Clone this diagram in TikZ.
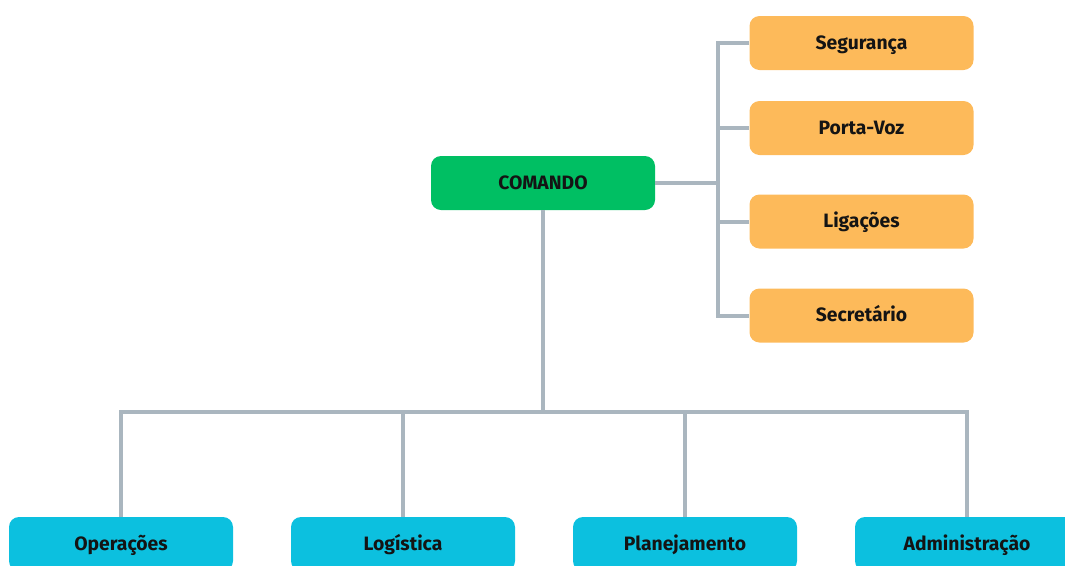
\documentclass[tikz,border=0pt]{standalone}
\usepackage{fontspec}
\setmainfont{Fira Sans}
\begin{document}
\begin{tikzpicture}[x=0.75pt,y=-0.75pt,
  box/.style={rounded corners=7.5pt,minimum width=168pt,minimum height=40.5pt,inner sep=0pt,
    text height=1.1em,text depth=0.14em,
    font=\bfseries\fontsize{14.5}{16}\selectfont,text=black!92},
  cmdbox/.style={box,fill=cmdgreen},
  sidebox/.style={box,fill=sideorange},
  secbox/.style={box,fill=seccyan},
  conn/.style={draw=linegray,line width=3pt}]
\definecolor{cmdgreen}{HTML}{00BF63}
\definecolor{sideorange}{HTML}{FDBA5A}
\definecolor{seccyan}{HTML}{0CC0DF}
\definecolor{linegray}{HTML}{AAB6BF}
\useasboundingbox (0,0) rectangle (1065,565);
\clip (0,0) rectangle (1065,565);
\coordinate (jx) at (718,183);
\coordinate (bj) at (543,412);
\node[cmdbox] (cmd) at (543,183) {COMANDO};
\node[sidebox] (s1) at (861.5,43) {Segurança};
\node[sidebox] (s2) at (861.5,128) {Porta-Voz};
\node[sidebox] (s3) at (861.5,221.5) {Ligações};
\node[sidebox] (s4) at (861.5,315.5) {Secretário};
\node[secbox] (b1) at (121,544) {Operações};
\node[secbox] (b2) at (403,544) {Logística};
\node[secbox] (b3) at (685,544) {Planejamento};
\node[secbox] (b4) at (967,544) {Administração};
\draw[conn] (cmd.east) -- (jx);
\draw[conn] (s1.west) -| (jx) |- (s4.west);
\draw[conn] (s2.west) -- (s2.west -| jx);
\draw[conn] (s3.west) -- (s3.west -| jx);
\draw[conn] (cmd.south) -- (bj);
\draw[conn] (b1.north) |- (bj) -| (b4.north);
\draw[conn] (b2.north) -- (b2.north |- bj);
\draw[conn] (b3.north) -- (b3.north |- bj);
\end{tikzpicture}
\end{document}
